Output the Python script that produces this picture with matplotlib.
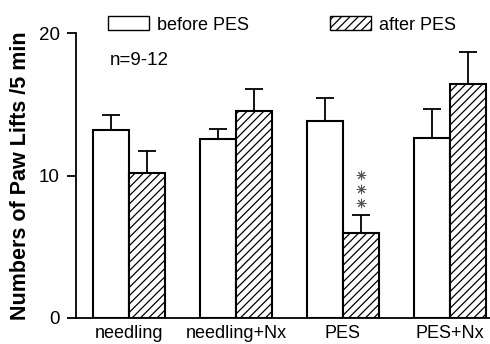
import matplotlib
matplotlib.use("Agg")
import matplotlib.pyplot as plt
import numpy as np

plt.rcParams['font.family'] = ['Liberation Sans', 'DejaVu Sans']
plt.rcParams['hatch.linewidth'] = 0.9

categories = ["needling", "needling+Nx", "PES", "PES+Nx"]
before = [13.2, 12.55, 13.85, 12.65]
before_err = [1.05, 0.7, 1.6, 2.05]
after = [10.2, 14.5, 6.0, 16.45]
after_err = [1.55, 1.55, 1.2, 2.2]
yticks = [0, 10, 20]
star_levels = [8.07, 9.05, 10.04]

fig = plt.figure(figsize=(4.9, 3.44), dpi=100)
ax = fig.add_axes([0.155, 0.0756, 0.845, 0.8284])

x = np.arange(len(categories))
w = 0.336
ax.bar(x - w/2, before, w, color='white', edgecolor='black', linewidth=1.5,
       yerr=[np.zeros(4), before_err], capsize=6.5,
       error_kw=dict(elinewidth=1.3, capthick=1.3, ecolor='black'),
       label='before PES', zorder=2)
ax.bar(x + w/2, after, w, color='white', edgecolor='black', linewidth=1.5,
       hatch='////', yerr=[np.zeros(4), after_err], capsize=6.5,
       error_kw=dict(elinewidth=1.3, capthick=1.3, ecolor='black'),
       label='after PES', zorder=2)

# significance stars
ax.scatter([2 + w/2]*3, star_levels, marker=(8, 2, 0), s=40, linewidths=0.7,
           color='#555555', zorder=3)

ax.text(-0.18, 18.1, 'n=9-12', fontsize=13.5, ha='left', va='center')

ax.set_xlim(-0.495, 3.374)
ax.set_ylim(0, 20)
ax.set_yticks(yticks)
ax.set_yticklabels([str(t) for t in yticks], fontsize=13.5)
ax.set_xticks(x)
ax.set_xticklabels(categories, fontsize=13)
ax.tick_params(axis='x', length=0, pad=5)
ax.tick_params(axis='y', length=6.5, width=1.3, direction='out', pad=5)
for s in ['top', 'right']:
    ax.spines[s].set_visible(False)
ax.spines['left'].set_linewidth(1.3)
ax.spines['bottom'].set_linewidth(1.3)
ax.set_ylabel('Numbers of Paw Lifts /5 min', fontsize=15.5, fontweight='bold', labelpad=6)

leg = ax.legend(ncol=2, loc='lower left', bbox_to_anchor=(0.077, 0.998), frameon=False,
                fontsize=13, handlelength=2.3, handleheight=0.8, handletextpad=0.4,
                columnspacing=4.5, borderaxespad=0, borderpad=0)
for p in leg.get_patches():
    p.set_linewidth(1.0)

fig.savefig('out.png', dpi=100)
